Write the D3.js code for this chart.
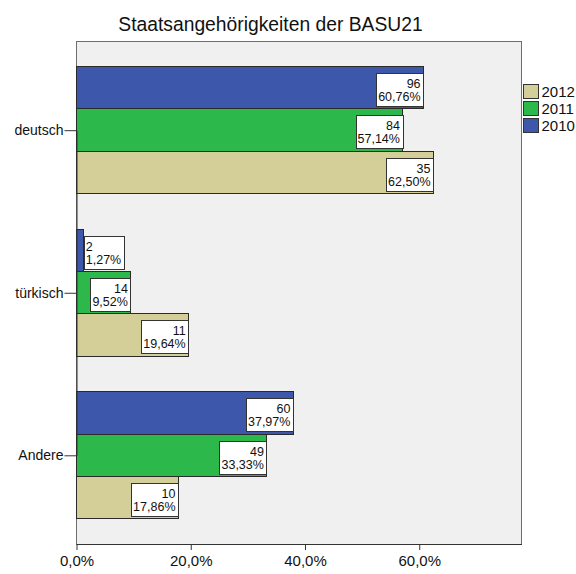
<!DOCTYPE html>
<html>
<head>
<meta charset="utf-8">
<script src="https://cdn.jsdelivr.net/npm/d3@7"></script>
<style>
  body { margin: 0; background: #fff; }
  text { font-family: "Liberation Sans", Arial, sans-serif; fill: #111; }
</style>
</head>
<body>
<svg id="chart"></svg>
<script>
// categories and series
var categories = ["deutsch", "türkisch", "Andere"],
    years = ["2010", "2011", "2012"],
    legendYears = ["2012", "2011", "2010"];

// percentages per year, in category order
var pct2010 = [60.76, 1.27, 37.97],
    pct2011 = [57.14, 9.52, 33.33],
    pct2012 = [62.50, 19.64, 17.86];

// counts per year
var n2010 = [96, 2, 60],
    n2011 = [84, 14, 49],
    n2012 = [35, 11, 10];

var xTicks = [0, 20, 40, 60];

var colors = { "2010": "#3d58ab", "2011": "#2db84b", "2012": "#d4cf99" };

var width = 576,
    height = 574,
    plotLeft = 76.5,
    plotRight = 521.5,
    plotTop = 41.5,
    plotBottom = 544;

var pctBy = { "2010": pct2010, "2011": pct2011, "2012": pct2012 },
    nBy = { "2010": n2010, "2011": n2011, "2012": n2012 };

var data = [];
categories.forEach(function (c, i) {
    years.forEach(function (y) {
        data.push({ cat: c, year: y, pct: pctBy[y][i], n: nBy[y][i] });
    });
});

var svg = d3.select("#chart")
    .attr("width", width)
    .attr("height", height);

var x = d3.scaleLinear()
    .domain([0, 77.9])
    .range([plotLeft, plotRight]);

var y = d3.scaleBand()
    .domain(categories)
    .range([plotTop, plotBottom])
    .paddingInner(0.2166)
    .paddingOuter(0.154);

var yInner = d3.scaleBand()
    .domain(years)
    .range([0, y.bandwidth()]);

// plot background
svg.append("rect")
    .attr("x", plotLeft)
    .attr("y", plotTop)
    .attr("width", plotRight - plotLeft)
    .attr("height", plotBottom - plotTop)
    .attr("fill", "#f0f0f0")
    .attr("stroke", "#6e6e6e")
    .attr("stroke-width", 1)
    .attr("shape-rendering", "crispEdges");

// title
svg.append("text")
    .attr("x", 270.5)
    .attr("y", 31)
    .attr("text-anchor", "middle")
    .style("font-size", "19.3px")
    .text("Staatsangehörigkeiten der BASU21");

// bars
var bars = svg.selectAll(".bar")
    .data(data)
    .enter()
    .append("rect")
    .attr("class", "bar")
    .attr("x", x(0))
    .attr("y", function (d) { return y(d.cat) + yInner(d.year); })
    .attr("width", function (d) { return x(d.pct) - x(0); })
    .attr("height", yInner.bandwidth())
    .attr("fill", function (d) { return colors[d.year]; })
    .attr("stroke", "#2a2a2a")
    .attr("stroke-width", 1)
    .attr("shape-rendering", "crispEdges");

// value labels
var fmtPct = function (v) { return v.toFixed(2).replace(".", ",") + "%"; };

var labels = svg.selectAll(".lbl")
    .data(data)
    .enter()
    .append("g")
    .attr("class", "lbl");

labels.each(function (d) {
    var g = d3.select(this);
    var box = g.append("rect")
        .attr("fill", "#fff")
        .attr("stroke", "#333")
        .attr("stroke-width", 1)
        .attr("shape-rendering", "crispEdges");
    var t1 = g.append("text").style("font-size", "12.5px").text(d.n);
    var t2 = g.append("text").style("font-size", "12.5px").text(fmtPct(d.pct));
    var w = Math.max(t1.node().getComputedTextLength(), t2.node().getComputedTextLength()) + 5;
    var barEnd = x(d.pct),
        barW = barEnd - x(0),
        top = y(d.cat) + yInner(d.year) + 6.5,
        boxX, anchor, tx;
    if (w < barW) {
        boxX = barEnd - w;
        anchor = "end";
        tx = barEnd - 3;
    } else {
        boxX = barEnd;
        anchor = "start";
        tx = barEnd + 2;
    }
    box.attr("x", Math.round(boxX) + 0.5)
        .attr("y", Math.round(top) + 0.5)
        .attr("width", Math.round(w))
        .attr("height", 33);
    t1.attr("x", tx).attr("y", top + 15).attr("text-anchor", anchor);
    t2.attr("x", tx).attr("y", top + 28).attr("text-anchor", anchor);
});

// axes
var xAxis = svg.append("g")
    .attr("transform", "translate(0," + plotBottom + ")")
    .call(d3.axisBottom(x)
        .tickValues(xTicks)
        .tickSize(6)
        .tickSizeOuter(0)
        .tickFormat(function (d) { return d.toFixed(1).replace(".", ",") + "%"; }));

xAxis.select(".domain").attr("stroke", "#333");
xAxis.selectAll(".tick line").attr("stroke", "#333");
xAxis.selectAll(".tick text")
    .attr("y", 11)
    .style("font-size", "15px")
    .style("font-family", "'Liberation Sans', Arial, sans-serif")
    .attr("fill", "#222");

var yAxis = svg.append("g")
    .attr("transform", "translate(" + plotLeft + ",0)")
    .call(d3.axisLeft(d3.scalePoint().domain(categories).range([y(categories[0]) + y.bandwidth() / 2, y(categories[2]) + y.bandwidth() / 2]))
        .tickSize(12)
        .tickSizeOuter(0)
        .tickPadding(1));

yAxis.select(".domain").attr("stroke", "#333");
yAxis.selectAll(".tick line").attr("stroke", "#333");
yAxis.selectAll(".tick text")
    .style("font-size", "14px")
    .style("font-family", "'Liberation Sans', Arial, sans-serif")
    .attr("fill", "#222");

// legend
var legend = svg.selectAll(".legend")
    .data(legendYears)
    .enter()
    .append("g")
    .attr("class", "legend")
    .attr("transform", function (d, i) { return "translate(523.5," + (84.5 + i * 17) + ")"; });

legend.append("rect")
    .attr("width", 15)
    .attr("height", 14)
    .attr("fill", function (d) { return colors[d]; })
    .attr("stroke", "#333")
    .attr("shape-rendering", "crispEdges");

legend.append("text")
    .attr("x", 18)
    .attr("y", 12.5)
    .style("font-size", "15px")
    .text(function (d) { return d; });
</script>
</body>
</html>
